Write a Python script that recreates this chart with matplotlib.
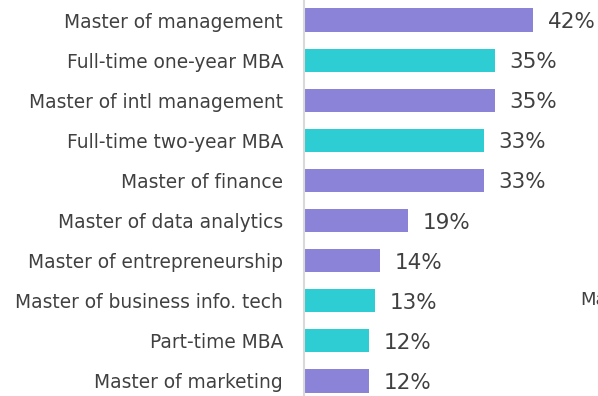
import matplotlib
matplotlib.use("Agg")
import matplotlib.pyplot as plt

categories = ["Master of management", "Full-time one-year MBA", "Master of intl management",
              "Full-time two-year MBA", "Master of finance", "Master of data analytics",
              "Master of entrepreneurship", "Master of business info. tech",
              "Part-time MBA", "Master of marketing"]
values = [42, 35, 35, 33, 33, 19, 14, 13, 12, 12]
is_mba = [False, True, False, True, False, False, False, True, True, False]

purple = "#8B83D8"
teal = "#2ECCD3"
colors = [teal if m else purple for m in is_mba]

fig = plt.figure(figsize=(5.98, 3.96), dpi=100)
ax = fig.add_axes([304 / 598, -5 / 396, 294 / 598, 401 / 396])

y = list(range(len(categories)))
ax.barh(y, values, height=0.58, color=colors)
ax.set_ylim(len(categories) - 0.5, -0.5)
ax.set_xlim(0, 294 / 5.45)

ax.set_yticks(y)
ax.set_yticklabels(categories, fontsize=13.4, color="#404040")
ax.tick_params(axis="y", length=0, pad=15)
ax.set_xticks([])

for s in ["top", "right", "bottom"]:
    ax.spines[s].set_visible(False)
ax.spines["left"].set_color("#D9D9D9")
ax.spines["left"].set_linewidth(1.5)

for yi, v in zip(y, values):
    ax.text(v + 2.7, yi + 0.05, f"{v}%", va="center", ha="left", fontsize=15.5, color="#404040")

# cut-off text at right edge, as in the source
fig.text(580 / 598, 1 - 300 / 396, "Master", fontsize=13, color="#404040", va="center", ha="left")

fig.savefig("out.png", dpi=100)
